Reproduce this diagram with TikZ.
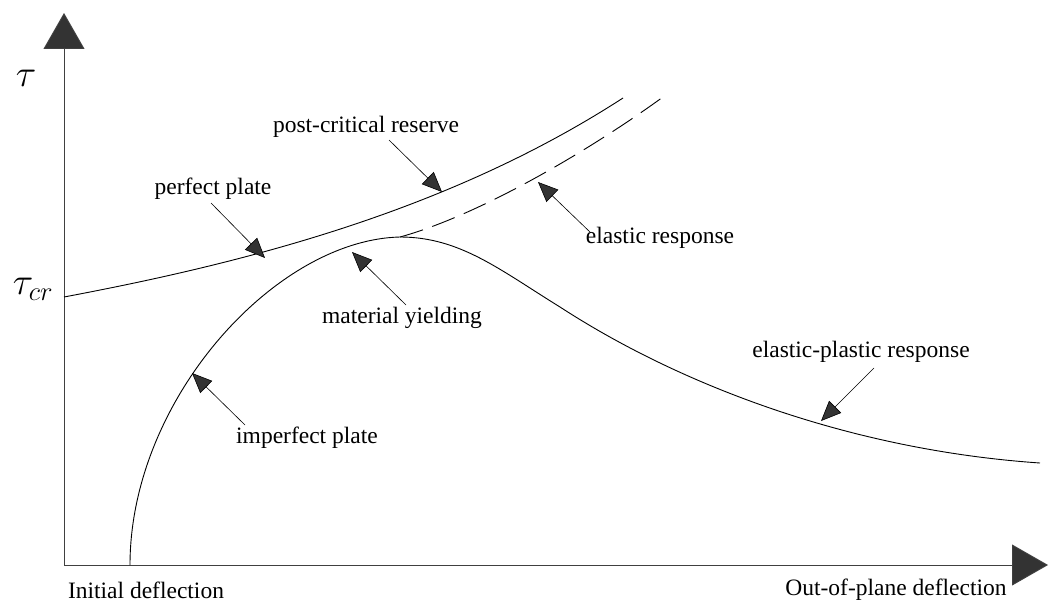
\RequirePackage{fix-cm}
\documentclass[tikz,border=0pt]{standalone}
\usepackage{fontspec}
\setmainfont{Liberation Serif}
\usepackage{tikz}
\usetikzlibrary{arrows.meta}
\definecolor{tipgray}{RGB}{51,51,51}

\tikzset{
  axisarrow/.style={draw=black!75,line width=0.9pt,-{Triangle[length=36pt,width=41pt,fill=tipgray]}},
  pointer/.style={line width=0.6pt,-{Triangle[length=20pt,width=17pt,fill=tipgray]}},
  curve/.style={line width=0.9pt},
  lbl/.style={font=\fontsize{23.5}{27}\selectfont,inner sep=0pt},
  symb/.style={font=\fontsize{38}{42}\selectfont,inner sep=0pt},
}

\begin{document}
\begin{tikzpicture}[x=1pt,y=-1pt]
  \useasboundingbox (0,0) rectangle (1049,602);
  % axes
  \coordinate (origin) at (64,565);
  \coordinate (ytop) at (64,13);
  \coordinate (xend) at (1048,565);
  \draw[axisarrow] (origin) -- (ytop);
  \draw[axisarrow] (origin) -- (xend);
  \node[symb] (tau) at (26,78) {$\tau$};
  \node[symb] (taucr) at (33,289) {$\tau_{cr}$};
  \node[lbl] (initdefl) at (146,590) {Initial deflection};
  \node[lbl] (oopdefl) at (896,590) {Out-of-plane deflection};

  % curves
  \draw[curve] (64,297) .. controls (250,262) and (450,210) .. (623,98);
  \draw[curve,dash pattern=on 24pt off 10pt] (400,237) .. controls (480,215) and (590,150) .. (663,97);
  \draw[curve] (130,565) .. controls (130,400) and (275,240) .. (400,237)
    .. controls (460,237) and (500,270) .. (560,307)
    .. controls (680,385) and (850,450) .. (1040,463);

  % labels
  \node[lbl] (postcrit) at (366,127) {post-critical reserve};
  \node[lbl] (perfect) at (213,189) {perfect plate};
  \node[lbl] (yielding) at (402,318) {material yielding};
  \node[lbl] (imperfect) at (307,438) {imperfect plate};
  \node[lbl] (elplastic) at (861,352) {elastic-plastic response};
  \node[lbl] (elastic) at (660,238) {elastic response};

  \coordinate (postcritA) at (389,140);  \coordinate (postcritB) at (442,192);
  \coordinate (perfectA) at (211,203);   \coordinate (perfectB) at (265,258);
  \coordinate (yieldingA) at (406,305);  \coordinate (yieldingB) at (352,252);
  \coordinate (imperfectA) at (245,425); \coordinate (imperfectB) at (192,373);
  \coordinate (elplasticA) at (874,368); \coordinate (elplasticB) at (821,421);
  \coordinate (elasticA) at (591,233);   \coordinate (elasticB) at (538,182);

  \draw[pointer] (postcritA) -- (postcritB);
  \draw[pointer] (perfectA) -- (perfectB);
  \draw[pointer] (yieldingA) -- (yieldingB);
  \draw[pointer] (imperfectA) -- (imperfectB);
  \draw[pointer] (elplasticA) -- (elplasticB);
  \draw[pointer] (elasticA) -- (elasticB);
\end{tikzpicture}
\end{document}
